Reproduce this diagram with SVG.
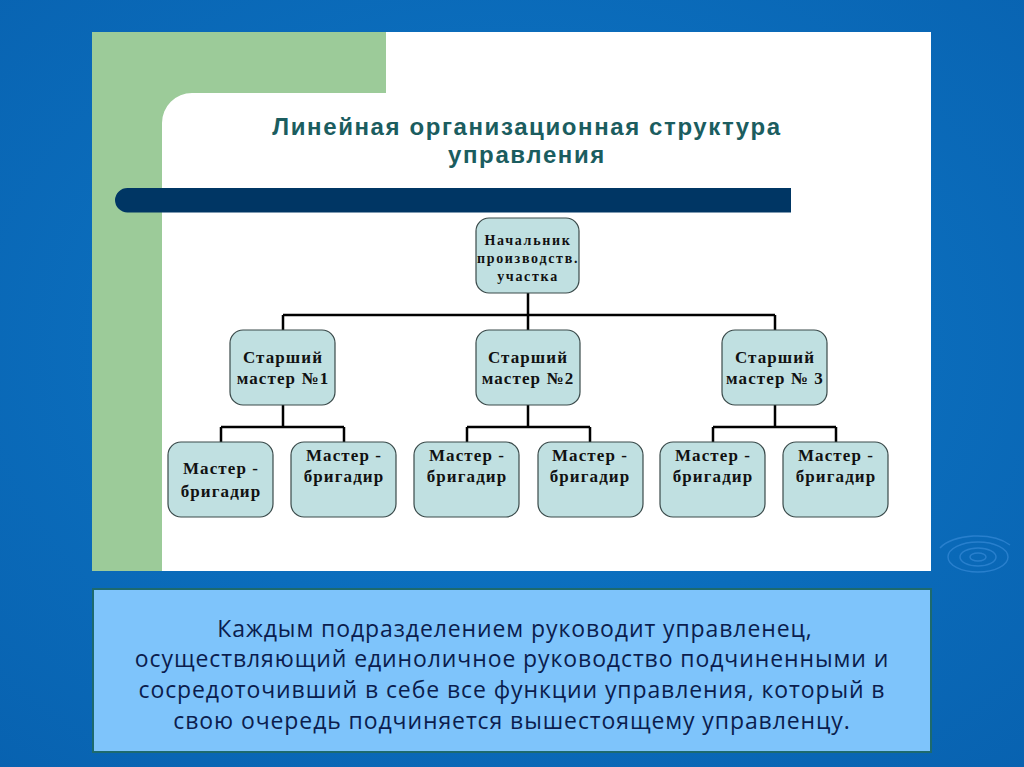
<svg xmlns="http://www.w3.org/2000/svg" width="1024" height="767" viewBox="0 0 1024 767">
<defs>
<radialGradient id="bg" cx="0.5" cy="0.45" r="0.75">
<stop offset="0" stop-color="#0e78c8"/>
<stop offset="1" stop-color="#0862b0"/>
</radialGradient>
</defs>
<style>
.node rect{fill:#c0e0e1;stroke:#3a4a4a;stroke-width:1.2}
.node text{font-family:"Liberation Serif",serif;font-weight:bold;font-size:17px;letter-spacing:1.1px;fill:#111;text-anchor:middle}
.node text.s{font-size:14px;letter-spacing:1.7px}
.conn{fill:none;stroke:#000;stroke-width:2.5}
.title{font-family:"Liberation Sans",Arial,sans-serif;font-weight:bold;font-size:24px;letter-spacing:1.6px;fill:#1b5d5f;text-anchor:middle}
.body{font-family:"Open Sans","DejaVu Sans",sans-serif;font-weight:500;font-size:23px;letter-spacing:0.9px;fill:#0b1d4e;text-anchor:middle}
</style>
<rect width="1024" height="767" fill="url(#bg)"/>
<g fill="none" stroke="#3d8fdc" stroke-width="1.5" opacity="0.6">
<ellipse cx="978" cy="557" rx="8" ry="4"/>
<ellipse cx="978" cy="557" rx="18" ry="9"/>
<ellipse cx="978" cy="557" rx="30" ry="15"/>
<path d="M940 548 A40 20 0 0 1 1010 545"/>
</g>
<g id="slide">
<rect x="92" y="32" width="839" height="539" fill="#ffffff"/>
<rect x="92" y="32" width="294" height="61" fill="#9ccb99"/>
<rect x="92" y="32" width="70" height="539" fill="#9ccb99"/>
<path d="M162 93 L192 93 A30 30 0 0 0 162 123 Z" fill="#9ccb99"/>
<path d="M115 200 A12.5 12.5 0 0 1 127.5 188 L791 188 L791 212.5 L127.5 212.5 A12.5 12.5 0 0 1 115 200 Z" fill="#003664"/>
<text class="title" x="527" y="135">Линейная организационная структура</text>
<text class="title" x="527" y="163">управления</text>
</g>
<g id="connectors">
<path class="conn" d="M528 293 V315 M283 315 H775 M283 315 V330 M528 315 V330 M775 315 V330"/>
<path class="conn" d="M283 405 V427 M221 427 H344 M221 427 V442 M344 427 V442"/>
<path class="conn" d="M528 405 V427 M467 427 H590 M467 427 V442 M590 427 V442"/>
<path class="conn" d="M775 405 V427 M713 427 H836 M713 427 V442 M836 427 V442"/>
</g>
<g id="n0" class="node"><rect x="476" y="218" width="103" height="75" rx="13"/>
<text class="s" x="528" y="245">Начальник</text><text class="s" x="528" y="263">производств.</text><text class="s" x="528" y="281">участка</text></g>
<g id="n1" class="node"><rect x="230" y="330" width="105" height="75" rx="13"/>
<text x="283" y="363">Старший</text><text x="283" y="384">мастер №1</text></g>
<g id="n2" class="node"><rect x="476" y="330" width="104" height="75" rx="13"/>
<text x="528" y="363">Старший</text><text x="528" y="384">мастер №2</text></g>
<g id="n3" class="node"><rect x="722" y="330" width="105" height="75" rx="13"/>
<text x="775" y="363">Старший</text><text x="775" y="384">мастер № 3</text></g>
<g id="n11" class="node"><rect x="168" y="442" width="105" height="75" rx="13"/>
<text x="221" y="474">Мастер -</text><text x="221" y="497">бригадир</text></g>
<g id="n12" class="node"><rect x="291" y="442" width="105" height="75" rx="13"/>
<text x="344" y="461">Мастер -</text><text x="344" y="482">бригадир</text></g>
<g id="n21" class="node"><rect x="414" y="442" width="105" height="75" rx="13"/>
<text x="467" y="461">Мастер -</text><text x="467" y="482">бригадир</text></g>
<g id="n22" class="node"><rect x="538" y="442" width="105" height="75" rx="13"/>
<text x="590" y="461">Мастер -</text><text x="590" y="482">бригадир</text></g>
<g id="n31" class="node"><rect x="660" y="442" width="105" height="75" rx="13"/>
<text x="713" y="461">Мастер -</text><text x="713" y="482">бригадир</text></g>
<g id="n32" class="node"><rect x="783" y="442" width="105" height="75" rx="13"/>
<text x="836" y="461">Мастер -</text><text x="836" y="482">бригадир</text></g>
<g id="note">
<rect x="93" y="589" width="838" height="163" fill="#7ec4fb" stroke="#1d6a6e" stroke-width="2"/>
<text class="body" x="515" y="637">Каждым подразделением руководит управленец,</text>
<text class="body" x="512" y="667">осуществляющий единоличное руководство подчиненными и</text>
<text class="body" x="512" y="698">сосредоточивший в себе все функции управления, который в</text>
<text class="body" x="512" y="729">свою очередь подчиняется вышестоящему управленцу.</text>
</g>
</svg>
